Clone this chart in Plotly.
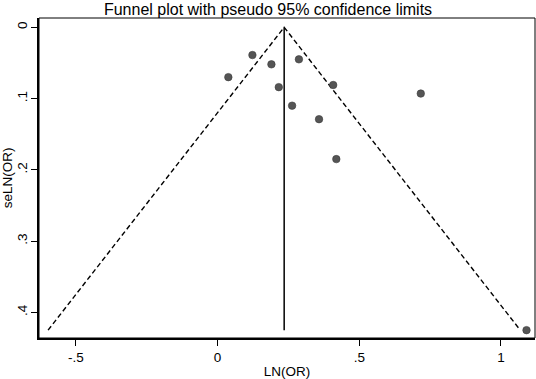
import plotly.graph_objects as go

# Study estimates (log odds ratio) and their standard errors
ln_or = [0.038, 0.123, 0.190, 0.287, 0.216, 0.263, 0.408, 0.358, 0.419, 0.717, 1.090]
se_ln_or = [0.070, 0.039, 0.052, 0.045, 0.084, 0.110, 0.081, 0.129, 0.185, 0.093, 0.425]

pooled = 0.235   # pooled LN(OR)
max_se = 0.425   # largest standard error shown
z95 = 1.96

x_tickvals = [-0.5, 0, 0.5, 1]
x_ticktext = ["-.5", "0", ".5", "1"]
y_tickvals = [0, 0.1, 0.2, 0.3, 0.4]
y_ticktext = ["0", ".1", ".2", ".3", ".4"]

font_family = "Liberation Sans, Arial, sans-serif"

fig = go.Figure()

# pseudo 95% confidence limits
fig.add_trace(go.Scatter(
    x=[pooled - z95 * max_se, pooled, pooled + z95 * max_se],
    y=[max_se, 0, max_se],
    mode="lines",
    line=dict(color="black", width=1.4, dash="5px,3px"),
    hoverinfo="skip", showlegend=False))

# pooled estimate line
fig.add_trace(go.Scatter(
    x=[pooled, pooled], y=[0, max_se],
    mode="lines",
    line=dict(color="black", width=1.5),
    hoverinfo="skip", showlegend=False))

# studies
fig.add_trace(go.Scatter(
    x=ln_or, y=se_ln_or, mode="markers",
    marker=dict(size=7.5, color="#555555", line=dict(color="#3a3a3a", width=0.6)),
    showlegend=False))

fig.update_layout(
    width=536, height=379,
    margin=dict(l=39, r=1, t=18, b=41, autoexpand=False),
    paper_bgcolor="white", plot_bgcolor="white",
    font=dict(family=font_family, size=13.5, color="black"),
    title=dict(text="Funnel plot with pseudo 95% confidence limits",
               x=0.5, xanchor="center", y=0.976, yanchor="middle",
               font=dict(size=16, family=font_family, color="black")),
    xaxis=dict(range=[-0.630, 1.120], tickvals=x_tickvals, ticktext=x_ticktext,
               showgrid=False, zeroline=False, showline=True, linecolor="black",
               linewidth=1.6, ticks="outside", ticklen=6, tickwidth=1.4,
               tickcolor="black", tickfont=dict(size=13.5), automargin=False,
               title=dict(text="LN(OR)", standoff=4, font=dict(size=13.5))),
    yaxis=dict(range=[0.436, -0.013], tickvals=y_tickvals, ticktext=y_ticktext,
               showgrid=False, zeroline=False, showline=True, linecolor="black",
               linewidth=1.6, ticks="outside", ticklen=6, tickwidth=1.4,
               tickcolor="black", tickangle=-90, tickfont=dict(size=13.5),
               automargin=False, ticklabelstandoff=-1,
               title=dict(text="seLN(OR)", standoff=2, font=dict(size=13.5))),
    shapes=[dict(type="rect", xref="paper", yref="paper", x0=0, y0=0, x1=1, y1=1,
                 line=dict(color="black", width=1), layer="above")],
)

fig.write_html("out.html", config={"displayModeBar": False},
               post_script="document.body.style.margin='0';")
